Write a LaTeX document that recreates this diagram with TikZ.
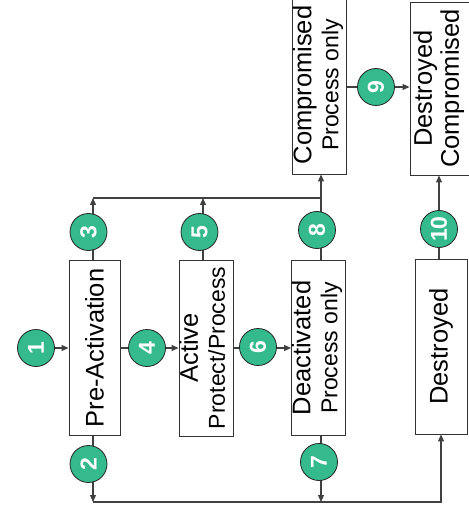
\documentclass[tikz,border=0pt]{standalone}
\usepackage{fontspec}
\setmainfont{Liberation Sans}
\usepackage{graphicx}
\usepackage{xcolor}
\usetikzlibrary{arrows.meta}

\definecolor{keygreen}{RGB}{52,186,140}
\definecolor{linegray}{RGB}{64,64,64}
\newcommand{\bigtxt}{\fontsize{25.5}{27}\selectfont}
\newcommand{\smalltxt}{\fontsize{23}{27}\selectfont}
\newcommand{\stlabel}[2]{\rotatebox{90}{\smalltxt\begin{tabular}{@{}c@{}}{\bigtxt #1}\\#2\end{tabular}}}

\tikzset{
	state/.style={draw=black!80, line width=0.9pt, fill=white, inner sep=0pt},
	num/.style={circle, draw=black!85, line width=0.8pt, fill=keygreen, text=white,
		minimum size=37pt, inner sep=0pt, font=\fontsize{23}{23}\selectfont\bfseries},
	conn/.style={draw=linegray, line width=1.1pt},
	flow/.style={conn, -{Triangle[length=7pt,width=6pt]}}
}

\begin{document}
\begin{tikzpicture}[x=1pt,y=-1pt]
	\useasboundingbox (0,0) rectangle (468,510);

	% States
	\node[state, minimum width=51pt, minimum height=175pt] (pre) at (94.5,348) {\rotatebox{90}{\bigtxt Pre-Activation}};
	\node[state, minimum width=52pt, minimum height=176pt] (act) at (206,348) {\stlabel{Active}{Protect/Process}};
	\node[state, minimum width=53pt, minimum height=175pt] (deact) at (318.5,348) {\stlabel{Deactivated}{Process only}};
	\node[state, minimum width=52pt, minimum height=175pt] (destr) at (441,346.5) {\rotatebox{90}{\bigtxt Destroyed}};
	\node[state, minimum width=53pt, minimum height=178pt] (comp) at (319.5,85) {\stlabel{Compromised}{Process only}};
	\node[state, minimum width=60pt, minimum height=173pt] (dcomp) at (440,88.5) {\stlabel{Destroyed}{\bigtxt Compromised}};

	% Bus corners
	\coordinate (in) at (18,348);
	\coordinate (tA) at (93,198);
	\coordinate (tB) at (203,198);
	\coordinate (tC) at (321,198);
	\coordinate (bA) at (93,502);
	\coordinate (bB) at (321,502);
	\coordinate (bC) at (441,502);

	% Main row
	\draw[flow] (in) -- (pre.west);
	\draw[flow] (pre.east) -- (act.west);
	\draw[flow] (act.east) -- (deact.west);
	\draw[flow] (comp.east |- 0,87) -- (dcomp.west |- 0,87);
	\draw[flow] (destr.north -| 439,0) -- (dcomp.south -| 439,0);

	% Top bus
	\draw[flow] (pre.north -| tA) -- (tA);
	\draw[flow] (act.north -| tB) -- (tB);
	\draw[conn] (tA) -- (tC);
	\draw[flow] (deact.north -| tC) -- (comp.south -| tC);

	% Bottom bus
	\draw[flow] (pre.south -| bA) -- (bA);
	\draw[flow] (deact.south -| bB) -- (bB);
	\draw[flow] (bA) -- (bC) -- (destr.south -| bC);

	% Transitions
	\foreach \n/\x/\y in {1/36/348, 2/88.5/464, 3/88.5/232, 4/147/348, 5/199.5/232,
		6/258/347, 7/319/462, 8/317/230, 9/376/87, 10/439/229} {
		\node[num] (c\n) at (\x,\y) {\rotatebox{90}{\n}};
	}
\end{tikzpicture}
\end{document}
